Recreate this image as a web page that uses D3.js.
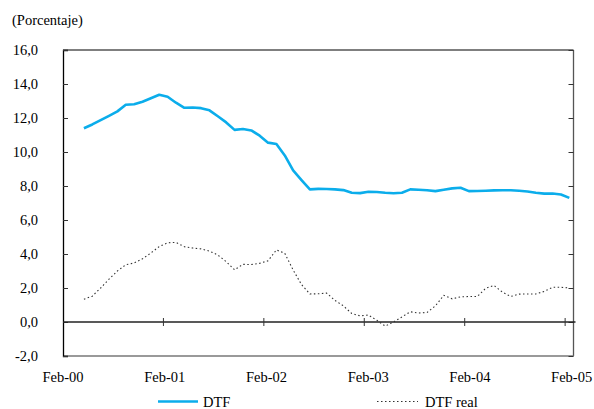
<!DOCTYPE html>
<html><head><meta charset="utf-8">
<script src="https://cdn.jsdelivr.net/npm/d3@7"></script>
<style>body{margin:0;background:#fff}svg{display:block}</style>
</head><body><svg id="c" width="594" height="409"></svg>
<script>
// Monthly categories Feb-00 (index 0) .. Feb-05 (index 60); series start Apr-00 (index 2)
const startIndex = 2;
const dtf = [11.4,11.62,11.88,12.13,12.39,12.78,12.81,12.96,13.16,13.37,13.25,12.9,12.6,12.62,12.58,12.45,12.1,11.74,11.3,11.35,11.27,10.96,10.55,10.47,9.8,8.92,8.35,7.8,7.83,7.82,7.8,7.76,7.6,7.58,7.66,7.65,7.6,7.57,7.6,7.8,7.78,7.75,7.7,7.78,7.86,7.9,7.7,7.71,7.72,7.74,7.75,7.75,7.72,7.68,7.6,7.55,7.56,7.5,7.3];
const dtfReal = [1.34,1.52,2.0,2.52,3.0,3.37,3.47,3.72,4.06,4.44,4.66,4.68,4.43,4.35,4.3,4.17,3.94,3.55,3.07,3.39,3.38,3.45,3.6,4.24,4.04,3.06,2.2,1.65,1.66,1.7,1.27,0.95,0.5,0.36,0.41,0.1,-0.24,0.0,0.3,0.6,0.53,0.56,0.95,1.57,1.36,1.48,1.5,1.5,1.98,2.15,1.76,1.5,1.64,1.65,1.65,1.8,2.04,2.04,2.01];
const xTickLabels = ["Feb-00","Feb-01","Feb-02","Feb-03","Feb-04","Feb-05"];
const xTickIndex = [0,12,24,36,48,60];
const yTicks = [-2,0,2,4,6,8,10,12,14,16];
const seriesNames = ["DTF","DTF real"];

const svg = d3.select("#c");
const L=63, R=573.5, T=50, B=356;
const x = d3.scaleLinear().domain([-0.5,60.5]).range([L,R]);
const y = d3.scaleLinear().domain([-2,16]).range([B,T]);
const fmt = v => d3.format(".1f")(v).replace(".",",").replace("−","-");
const txt = sel => sel.style("font-family",'"Liberation Serif"').style("font-size","14.5px").attr("fill","#000");

// frame
svg.append("line").attr("x1",L).attr("x2",R).attr("y1",T).attr("y2",T).attr("stroke","#555").attr("stroke-width",1.3);
svg.append("line").attr("x1",R).attr("x2",R).attr("y1",T).attr("y2",B).attr("stroke","#555").attr("stroke-width",1.3);
svg.append("line").attr("x1",L).attr("x2",R).attr("y1",B).attr("y2",B).attr("stroke","#777").attr("stroke-width",1.5);

// y axis
const yAxis = svg.append("g").attr("transform",`translate(${L},0)`)
  .call(d3.axisRight(y).tickValues(yTicks).tickSize(5).tickFormat(""));
yAxis.select(".domain").attr("stroke","#000").attr("stroke-width",1.3);
yAxis.selectAll(".tick line").attr("stroke","#333");
svg.append("g").attr("transform",`translate(${R},0)`)
  .call(d3.axisLeft(y).tickValues(yTicks).tickSize(5).tickFormat(""))
  .call(g=>{g.select(".domain").remove();g.selectAll(".tick line").attr("stroke","#333");});
svg.append("g").selectAll("text").data(yTicks).join("text")
  .attr("x",38).attr("y",d=>y(d)+5).attr("text-anchor","end")
  .call(txt).text(d=>fmt(d));

svg.append("text").attr("x",12).attr("y",25).call(txt).text("(Porcentaje)");

// zero line and x ticks
svg.append("line").attr("x1",L).attr("x2",R+2).attr("y1",y(0)).attr("y2",y(0)).attr("stroke","#222").attr("stroke-width",1.3);
svg.append("g").selectAll("line").data(xTickIndex.slice(1)).join("line")
  .attr("x1",d=>x(d-0.5)).attr("x2",d=>x(d-0.5)).attr("y1",y(0)-4).attr("y2",y(0)+4).attr("stroke","#333");
svg.append("g").selectAll("text").data(xTickLabels).join("text")
  .attr("x",(d,k)=>x(xTickIndex[k]-0.5)+k*1.3).attr("y",382).attr("text-anchor","middle")
  .call(txt).text(d=>d);

// lines
const line = d3.line().x((d,i)=>x(startIndex+i)).y(d=>y(d));
svg.append("path").datum(dtf).attr("d",line).attr("fill","none").attr("stroke","#0BADEB").attr("stroke-width",2.6).attr("stroke-linejoin","round");
svg.append("path").datum(dtfReal).attr("d",line).attr("fill","none").attr("stroke","#333").attr("stroke-width",1.1).attr("stroke-dasharray","1.5,2.5");

// legend
svg.append("line").attr("x1",158).attr("x2",198).attr("y1",401.5).attr("y2",401.5).attr("stroke","#0BADEB").attr("stroke-width",2.6);
svg.append("text").attr("x",203).attr("y",407).call(txt).text(seriesNames[0]);
svg.append("line").attr("x1",377).attr("x2",418).attr("y1",401.5).attr("y2",401.5).attr("stroke","#333").attr("stroke-width",1.1).attr("stroke-dasharray","1.5,2.5");
svg.append("text").attr("x",425).attr("y",407).call(txt).text(seriesNames[1]);
</script></body></html>
